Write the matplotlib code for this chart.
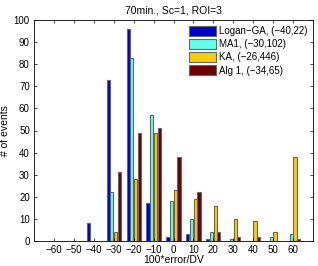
import matplotlib
matplotlib.use("Agg")
from matplotlib import pyplot as plt
import numpy as np

plt.rcParams["font.family"] = ["Liberation Sans", "DejaVu Sans"]

# bin centres (100*error/DV) and counts per method
bins = [-60, -50, -40, -30, -20, -10, 0, 10, 20, 30, 40, 50, 60]
logan_ga = [0, 0, 8, 73, 96, 17, 2, 3, 1, 0, 0, 0, 0]
ma1 = [0, 0, 0, 22, 83, 57, 18, 10, 4, 1, 0, 2, 3]
ka = [0, 0, 0, 4, 28, 49, 23, 19, 16, 10, 9, 4, 38]
alg1 = [0, 0, 0, 31, 49, 51, 38, 22, 4, 2, 2, 0, 1]

labels = ["Logan\u2212GA, (\u221240,22)", "MA1, (\u221230,102)",
          "KA, (\u221226,446)", "Alg 1, (\u221234,65)"]
colors = ["#0000CC", "#66FFE8", "#FFCC00", "#6B0000"]

fig = plt.figure(figsize=(3.18, 2.66), dpi=100)
ax = fig.add_axes([34 / 318, 1 - 241 / 266, 279 / 318, 221 / 266])

x = np.array(bins, dtype=float)
step, width = 1.85, 1.6
for i, (vals, c, lab) in enumerate(zip([logan_ga, ma1, ka, alg1], colors, labels)):
    ax.bar(x + (i - 1.5) * step, vals, width=width, color=c, edgecolor="#666666",
           linewidth=0.8, label=lab)

ax.set_xlim(-70, 70)
ax.set_ylim(0, 100)
ax.set_xticks(bins)
ax.set_xticklabels([str(b).replace("-", "\u2212") for b in bins])
ax.set_yticks(range(0, 101, 10))
ax.tick_params(direction="in", top=True, right=True, labelsize=7, length=2.5, width=0.5, pad=3)
for s in ax.spines.values():
    s.set_linewidth(0.6)

ax.set_title("70min., Sc=1, ROI=3", fontsize=7.5, pad=5)
ax.set_xlabel("100*error/DV", fontsize=7.5, labelpad=0)
ax.set_ylabel("# of events", fontsize=7.5)
ax.yaxis.set_label_coords(-0.086, 0.5)

ax.legend(loc="upper right", fontsize=7, frameon=False, handlelength=2.8, handleheight=1.2,
          handletextpad=0.3, labelspacing=0.3, borderaxespad=0.3, borderpad=0.3)

fig.savefig("out.png", dpi=100)
